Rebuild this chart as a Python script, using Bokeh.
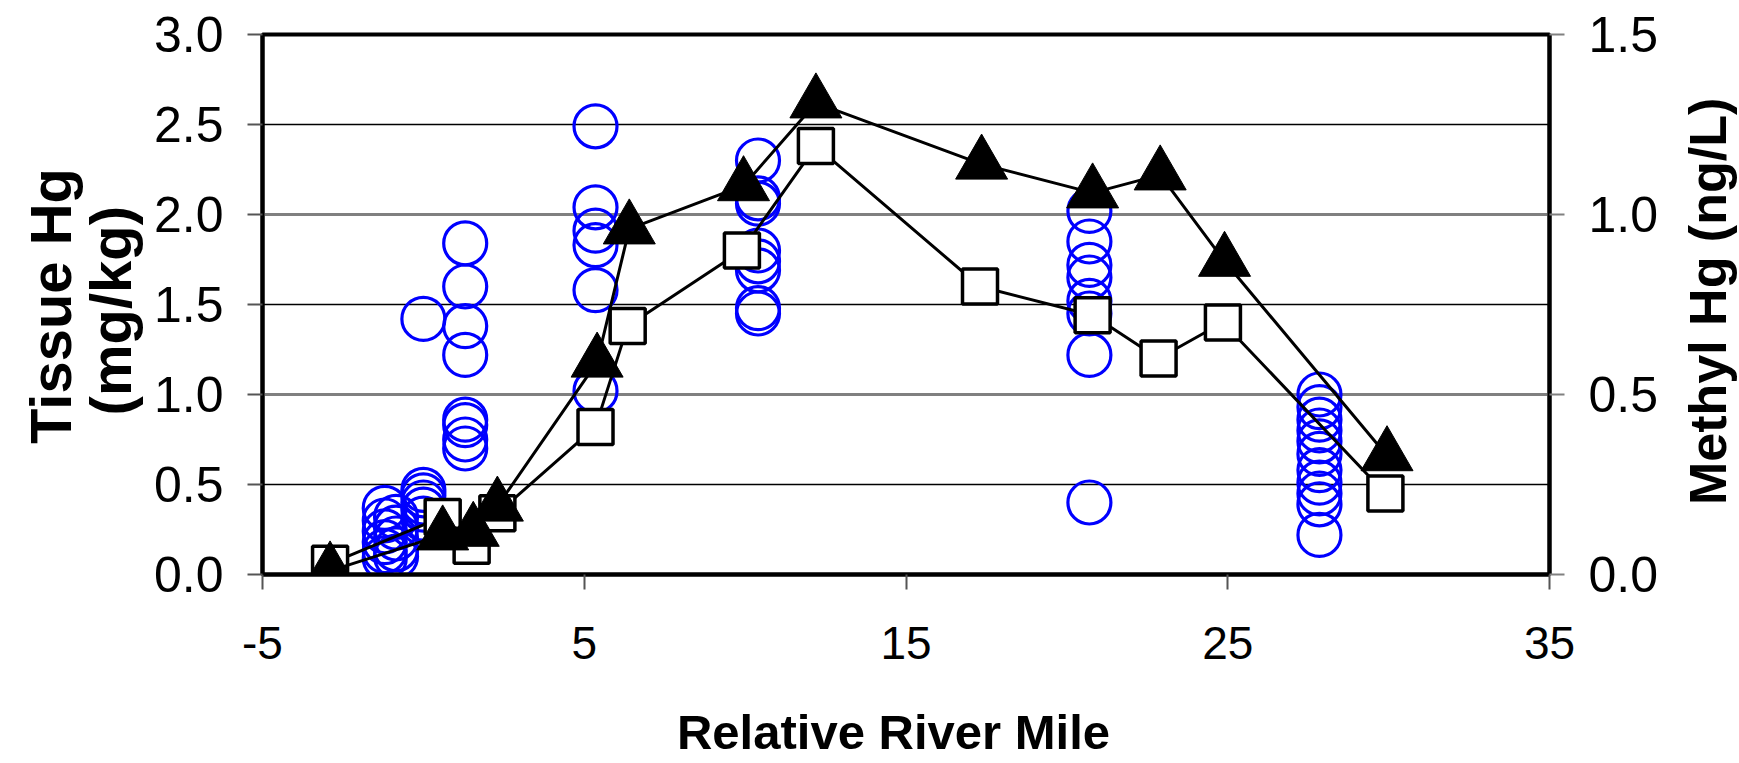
import math
from bokeh.plotting import figure
from bokeh.models import Range1d, LinearAxis, FixedTicker, PrintfTickFormatter, Grid, Label
from bokeh.layouts import row, column
from bokeh.embed import file_html
from bokeh.resources import INLINE

# ---------------- data ----------------
x_ticks = [-5, 5, 15, 25, 35]
left_ticks = [0.0, 0.5, 1.0, 1.5, 2.0, 2.5, 3.0]
right_ticks = [0.0, 0.5, 1.0, 1.5]

# Tissue Hg (mg/kg), fish samples (blue open circles, left axis)
tissue_x = [-1.2, -1.2, -1.2, -1.2, -1.2, -1.2,
            -0.85, -0.85, -0.85, -0.85, -0.85,
            0.0, 0.0, 0.0, 0.0, 0.0, 0.0,
            1.3, 1.3, 1.3, 1.3, 1.3, 1.3, 1.3, 1.3,
            5.35, 5.35, 5.35, 5.35, 5.35, 5.35,
            10.4, 10.4, 10.4, 10.4, 10.4, 10.4, 10.4, 10.4,
            20.7, 20.7, 20.7, 20.7, 20.7, 20.7, 20.7, 20.7,
            27.85, 27.85, 27.85, 27.85, 27.85, 27.85, 27.85, 27.85, 27.85, 27.85, 27.85]
tissue_hg = [0.37, 0.30, 0.24, 0.18, 0.13, 0.09,
             0.32, 0.26, 0.20, 0.14, 0.10,
             1.42, 0.47, 0.44, 0.40, 0.36, 0.31,
             1.84, 1.60, 1.38, 1.22, 0.86, 0.83, 0.75, 0.70,
             2.49, 2.04, 1.91, 1.83, 1.58, 1.02,
             2.30, 2.09, 2.06, 1.80, 1.74, 1.69, 1.48, 1.45,
             2.02, 1.85, 1.72, 1.65, 1.52, 1.45, 1.22, 0.40,
             1.00, 0.93, 0.86, 0.80, 0.74, 0.67, 0.58, 0.51, 0.45, 0.39, 0.22]

# Methyl Hg (ng/L), right axis
tri_x = [-2.9, 0.6, 1.55, 2.3, 5.4, 6.4, 9.95, 12.2, 17.35, 20.8, 22.9, 24.9, 29.95]
tri_mehg = [0.01, 0.11, 0.12, 0.19, 0.59, 0.96, 1.08, 1.31, 1.14, 1.06, 1.11, 0.87, 0.33]
sq_x = [-2.9, 0.6, 1.5, 2.3, 5.35, 6.35, 9.9, 12.2, 17.3, 20.8, 22.85, 24.85, 29.9]
sq_mehg = [0.03, 0.16, 0.08, 0.17, 0.41, 0.69, 0.90, 1.19, 0.80, 0.72, 0.60, 0.70, 0.225]

x_title = "Relative River Mile"
left_title = ["Tissue Hg", "(mg/kg)"]
right_title = "Methyl Hg (ng/L)"

FONT = "Liberation Sans"

# ---------------- main chart ----------------
LEFT_W, RIGHT_W = 150, 70
MAIN_W, MAIN_H = 1519, 694
p = figure(width=MAIN_W, height=MAIN_H, output_backend="svg", toolbar_location=None,
           x_range=Range1d(-5, 35), y_range=Range1d(0, 3.0),
           min_border_left=112, min_border_right=120, min_border_top=34, min_border_bottom=120,
           background_fill_color="white", border_fill_color="white")
p.extra_y_ranges = {"mehg": Range1d(0, 1.5)}

p.outline_line_color = "black"
p.outline_line_width = 4

# grids
p.xgrid.visible = False
p.ygrid.ticker = FixedTicker(ticks=left_ticks)
p.ygrid.grid_line_color = "black"
p.ygrid.grid_line_width = 1.5
rgrid = Grid(dimension=1, ticker=FixedTicker(ticks=right_ticks), y_range_name="mehg",
             grid_line_color="#808080", grid_line_width=3)
p.add_layout(rgrid)

# x axis
xa = p.xaxis[0]
xa.ticker = FixedTicker(ticks=x_ticks)
xa.formatter = PrintfTickFormatter(format="%d")
xa.major_label_standoff = 37

# left axis
ya = p.yaxis[0]
ya.ticker = FixedTicker(ticks=left_ticks)
ya.formatter = PrintfTickFormatter(format="%.1f")
ya.major_label_standoff = 24

# right axis
ra = LinearAxis(y_range_name="mehg", ticker=FixedTicker(ticks=right_ticks),
                formatter=PrintfTickFormatter(format="%.1f"))
ra.major_label_standoff = 24
p.add_layout(ra, "right")

for ax in (xa, ya, ra):
    ax.major_label_text_font = FONT
    ax.major_label_text_font_size = "50px"
    ax.major_label_text_color = "black"
    ax.axis_line_color = "black"
    ax.axis_line_width = 4
    ax.major_tick_in = 0
    ax.major_tick_out = 15
    ax.major_tick_line_width = 2
    ax.major_tick_line_color = "#555555"
    ax.minor_tick_in = 0
    ax.minor_tick_out = 0
xa.major_label_text_font_size = "46px"
ra.major_tick_line_color = "#808080"

# tissue Hg circles
p.scatter(tissue_x, tissue_hg, marker="circle", size=43, fill_color=None,
          line_color="#0000FF", line_width=3.2)

# squares series
p.line(sq_x, sq_mehg, y_range_name="mehg", line_color="black", line_width=3)
p.scatter(sq_x, sq_mehg, y_range_name="mehg", marker="square", size=35,
          fill_color="white", line_color="black", line_width=3.5)

# triangles series
p.line(tri_x, tri_mehg, y_range_name="mehg", line_color="black", line_width=3)
p.scatter(tri_x, tri_mehg, y_range_name="mehg", marker="triangle", size=52,
          fill_color="black", line_color="black", line_width=1)


# ---------------- title strips (text only) ----------------
def strip(w, h):
    f = figure(width=w, height=h, output_backend="svg", toolbar_location=None,
               x_range=Range1d(0, w), y_range=Range1d(0, h),
               x_axis_location=None, y_axis_location=None,
               min_border=0, outline_line_color=None,
               background_fill_color="white", border_fill_color="white")
    f.grid.visible = False
    return f


def put(fig, text, x, y, size, angle=0.0):
    fig.add_layout(Label(x=x, y=y, text=text, angle=angle, text_align="center",
                         text_baseline="middle", text_font=FONT, text_font_style="bold",
                         text_font_size=size, text_color="black"))


pl = strip(LEFT_W, MAIN_H)
put(pl, left_title[0], 50, MAIN_H - 349, "58px", math.pi / 2)
put(pl, left_title[1], 110, MAIN_H - 355, "58px", math.pi / 2)

pr = strip(RIGHT_W, MAIN_H)
put(pr, right_title, 38, MAIN_H - 343, "52px", math.pi / 2)

BOT_H = 65
pb = strip(LEFT_W + MAIN_W + RIGHT_W, BOT_H)
put(pb, x_title, 893, BOT_H - (731 - MAIN_H), "49px")

layout = column(row(pl, p, pr, spacing=0), pb, spacing=0)

open("out.html", "w").write(file_html(layout, INLINE))
